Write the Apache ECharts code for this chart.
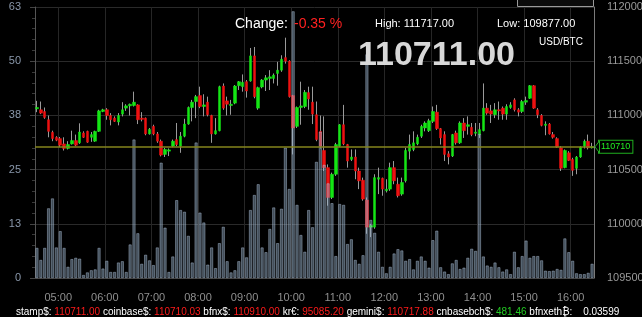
<!DOCTYPE html>
<html><head><meta charset="utf-8">
<script src="https://cdn.jsdelivr.net/npm/echarts@6/dist/echarts.min.js"></script>
<style>html,body{margin:0;padding:0;background:#000;}#c{width:642px;height:317px;}</style>
</head><body><div id="c"></div><script>
// 5-minute candles, first candle 04:30
const startMinutes = 4 * 60 + 30;
const candleCount = 144;
const openP = [111061,111052,111036,110960,110844,110798,110786,110737,110695,110737,
110768,110747,110838,110853,110798,110762,110853,111036,111052,110999,
110975,110939,111012,111067,111088,111091,111097,110975,110975,110829,
110899,110829,110762,110640,110670,110716,110777,110716,110808,110920,
111073,111128,111183,111082,111122,110999,110829,110859,111271,111134,
111091,111113,111274,111265,111311,111317,111549,111067,111262,111326,
111341,111341,111387,111417,111533,111500,111183,110899,111073,111082,
111210,111122,111006,110853,110677,110518,110243,110457,110716,110914,
110731,110594,110616,110487,110402,110219,109969,109969,110411,110420,
110304,110320,110518,110365,110274,110396,110670,110686,110737,110808,
110884,110859,110945,111030,110878,110823,110646,110625,110838,110747,
110930,110899,110890,110835,110823,110859,111067,111042,111006,111052,
111067,111012,111073,111143,111052,111036,111122,111158,111274,111052,
110999,110908,110920,110823,110786,110701,110518,110655,110594,110512,
110616,110716,110762,110701];
const highP = [111134,111128,111073,110999,110859,110808,110801,110798,110762,110859,
110823,110927,110853,110859,110847,110859,111052,111061,111067,111021,
110991,111021,111122,111103,111109,111219,111103,111030,110981,110884,
110914,110847,110777,110701,110695,110777,110930,110847,110969,111082,
111143,111189,111265,111195,111173,111006,110975,111274,111295,111173,
111143,111280,111317,111378,111326,111622,111631,111265,111335,111372,
111417,111387,111494,111555,111717,111509,111189,111082,111311,111234,
111265,111265,111128,110999,110991,110548,110472,110747,110920,111097,
110737,110686,110686,110518,110426,110243,110000,110457,110518,110426,
110411,110564,110579,110426,110426,110701,110823,110853,110823,110914,
110945,110969,111082,111097,110884,110853,110670,110829,110859,110945,
110975,110991,110930,110930,110930,111295,111113,111097,111113,111128,
111082,111103,111122,111158,111067,111143,111173,111280,111280,111067,
111012,110945,110930,110847,110798,110716,110686,110670,110609,110625,
110716,110777,110823,110747];
const lowP = [111030,111012,110969,110798,110762,110762,110707,110676,110686,110731,
110716,110737,110792,110747,110756,110756,110847,111030,110960,110908,
110939,110908,110991,111042,110999,111082,110920,110945,110817,110823,
110817,110747,110622,110616,110625,110707,110716,110655,110798,110914,
110945,110975,111067,110991,110991,110747,110823,110853,111052,110999,
111006,111103,111234,111219,111164,111311,111158,111052,111250,111225,
111234,111295,111274,111402,111478,111164,110640,110884,110914,111067,
111052,110920,110762,110695,110487,110167,110228,110442,110707,110725,
110518,110579,110411,110320,110213,109908,109877,109954,110274,110259,
110289,110304,110365,110243,110259,110381,110594,110670,110725,110792,
110853,110847,110930,110866,110731,110579,110548,110616,110731,110737,
110792,110823,110808,110808,110792,110853,111006,110930,110975,110960,
110960,110960,111061,111036,110991,111021,111097,111152,111061,110975,
110899,110817,110823,110786,110701,110487,110512,110579,110442,110457,
110609,110695,110686,110695];
const closeP = [111073,111021,110981,110853,110786,110771,110725,110695,110731,110768,
110725,110847,110798,110753,110823,110853,111042,111052,110999,110960,
110945,110999,111052,111088,111103,111122,110960,110963,110829,110872,
110829,110762,110634,110686,110682,110762,110731,110808,110920,111073,
111122,111173,111082,111097,111006,110829,110859,111265,111067,111103,
111103,111271,111311,111305,111225,111549,111173,111256,111326,111347,
111356,111372,111417,111518,111500,111173,110884,111073,111088,111213,
111152,111012,110777,110716,110518,110243,110457,110731,110914,110737,
110579,110616,110487,110396,110228,109969,109984,110426,110426,110320,
110320,110518,110396,110259,110381,110677,110731,110747,110798,110899,
110930,110951,111036,110878,110792,110640,110616,110823,110747,110930,
110859,110914,110823,110847,110869,111067,111021,111012,111052,111042,
111012,111082,111097,111052,111030,111128,111137,111274,111067,111006,
110908,110920,110829,110798,110707,110512,110677,110585,110493,110616,
110707,110762,110701,110711];
const volume = [7.0,4.2,7.0,16.2,18.5,7.1,10.9,7.0,2.6,4.4,
4.7,4.5,0.7,1.3,1.8,2.0,7.0,2.2,4.0,1.4,
1.4,3.6,3.9,1.4,7.8,32.2,10.4,3.3,5.4,4.1,
3.0,7.1,26.8,11.7,1.4,5.0,18.1,15.8,15.4,9.8,
3.6,31.5,15.2,12.9,3.1,7.1,2.3,8.1,11.9,3.9,
1.3,1.8,3.9,7.1,4.8,15.8,19.3,21.8,7.1,6.0,
11.4,16.4,8.1,16.1,30.3,20.7,62,17.0,10.0,6.1,
15.8,11.8,27,34,26.3,22,17.4,5.1,17.2,17,
7.9,9.0,4.2,3.3,5.3,52,13.5,10.5,6.1,2.6,
1.1,2.6,5.7,6.7,6.4,4.0,4.4,2.0,4.0,5.0,
4.0,2.4,8.8,11,2.5,1.5,0.9,3.4,4.2,2.1,
2.4,4.7,6.8,6.3,33.5,5.0,2.9,2.6,3.6,2.5,
1.5,2.0,0.9,6.1,2.5,5.1,8.7,4.7,5.1,5.1,
4.1,1.7,1.6,1.7,2.1,1.9,9.2,6.0,4.0,1.1,
0.9,0.9,1.2,3.3];
const lastPriceLine = 110710;
const volumeTicks = [0, 13, 25, 38, 50, 63];
const priceTicks = [109500, 110000, 110500, 111000, 111500, 112000];
const header = { changeLabel: 'Change:', change: '-0.35 %', high: 'High: 111717.00', low: 'Low: 109877.00', pair: 'USD/BTC', last: '110711.00' };
const tickers = [
  ['stamp$:', '110711.00', 'r'],
  ['coinbase$:', '110710.03', 'r'],
  ['bfnx$:', '110910.00', 'r'],
  ['kr€:', '95085.20', 'r'],
  ['gemini$:', '110717.88', 'r'],
  ['cnbasebch$:', '481.46', 'g'],
  ['bfnxeth₿:', '0.03599', 'w']
];

const times = [];
for (let i = 0; i < candleCount; i++) {
  const m = startMinutes + i * 5;
  times.push(String(Math.floor(m / 60)).padStart(2, '0') + ':' + String(m % 60).padStart(2, '0'));
}
const isHour = (idx, val) => /:00$/.test(val);
const wickData = openP.map((o, i) => [o, closeP[i], lowP[i], highP[i]]);
const bodyData = openP.map((o, i) => [o, closeP[i], Math.min(o, closeP[i]), Math.max(o, closeP[i])]);

const FONT = "'Liberation Sans', Arial, sans-serif";
const chart = echarts.init(document.getElementById('c'), null, { renderer: 'canvas' });

const tickerText = tickers.map(t => '{l|' + t[0] + '} {' + t[2] + '|' + t[1] + '}').join(' ');

function txt(x, y, text, fill, font) {
  return { type: 'text', x: x, y: y, z: 10, style: { text: text, fill: fill, font: font, align: 'left', verticalAlign: 'middle' } };
}

function buildGraphics(extra) {
  const g = [
    { type: 'rect', shape: { x: 517.5, y: -6, width: 76, height: 12.5 }, style: { fill: '#0b0b0b', stroke: '#9a9a9a', lineWidth: 1 }, z: 10 },
    txt(235, 24, header.changeLabel, '#ffffff', '14px ' + FONT),
    txt(294, 24, header.change, '#ff2020', '14px ' + FONT),
    txt(375, 24, header.high, '#ffffff', '11px ' + FONT),
    txt(497, 24, header.low, '#ffffff', '11px ' + FONT),
    txt(539, 42, header.pair, '#ffffff', '10px ' + FONT),
    txt(358, 56, header.last, '#d8d8d8', 'bold 34px ' + FONT),
    { type: 'text', x: 16, y: 312.5, z: 10, style: { text: tickerText, font: '10px ' + FONT, align: 'left', verticalAlign: 'middle',
        rich: { l: { fill: '#ffffff', fontSize: 10, fontFamily: FONT }, r: { fill: '#ff1a1a', fontSize: 10, fontFamily: FONT },
                g: { fill: '#22cc22', fontSize: 10, fontFamily: FONT }, w: { fill: '#ffffff', fontSize: 10, fontFamily: FONT, padding: [0, 0, 0, 8] } } } }
  ];
  return extra ? g.concat(extra) : g;
}

chart.setOption({
  animation: false,
  backgroundColor: '#000000',
  grid: { left: 35, right: 48, top: 7, bottom: 39, containLabel: false, outerBoundsMode: 'none' },
  xAxis: {
    type: 'category', data: times, boundaryGap: true,
    axisLine: { show: true, lineStyle: { color: '#444' } },
    axisTick: { show: false },
    axisLabel: { interval: isHour, color: '#8f8f8f', fontSize: 11, fontFamily: FONT, margin: 14, padding: [0, 4, 0, 0] },
    splitLine: { show: true, interval: isHour, lineStyle: { color: '#262626', width: 1 } }
  },
  yAxis: [
    { type: 'value', position: 'left', min: 0, max: 63, interval: 12.6,
      axisLine: { show: true, lineStyle: { color: '#555' } },
      axisTick: { show: true, length: 5, lineStyle: { color: '#444' } },
      minorTick: { show: true, splitNumber: 5, length: 3, lineStyle: { color: '#3a3a3a' } },
      axisLabel: { color: '#8a98ab', fontSize: 11, fontFamily: FONT, margin: 14, formatter: v => String(Math.round(v)) },
      splitLine: { show: false } },
    { type: 'value', position: 'right', min: priceTicks[0], max: priceTicks[priceTicks.length - 1], interval: 500,
      axisLine: { show: true, lineStyle: { color: '#7a7a7a' } },
      axisTick: { show: false },
      axisLabel: { color: '#9a9a9a', fontSize: 11, fontFamily: FONT, margin: 13, formatter: v => String(Math.round(v)) },
      splitLine: { show: true, lineStyle: { color: '#2a2a2a', width: 1 } } }
  ],
  series: [
    { type: 'candlestick', name: 'wick', yAxisIndex: 1, data: wickData, barWidth: 1, z: 2, silent: true,
      itemStyle: { color: '#9a9a9a', color0: '#9a9a9a', borderColor: '#9a9a9a', borderColor0: '#9a9a9a', borderWidth: 1 } },
    { type: 'candlestick', name: 'body', yAxisIndex: 1, data: bodyData, barWidth: 3, z: 3, silent: true,
      itemStyle: { color: '#14e614', color0: '#ee1111', borderColor: '#14e614', borderColor0: '#ee1111', borderWidth: 0.5 },
      markLine: { silent: true, symbol: ['none', 'none'], animation: false,
        lineStyle: { color: '#85851c', width: 1.5, type: 'solid' },
        label: { show: true, position: 'end', distance: 5, formatter: String(lastPriceLine), color: '#22ee22', fontSize: 9, fontFamily: FONT,
          backgroundColor: '#000', borderColor: '#1fae1f', borderWidth: 1, padding: [2, 2, 1, 2] },
        data: [{ yAxis: lastPriceLine }] } },
    { type: 'bar', name: 'vol', yAxisIndex: 0, data: volume, barWidth: 3, z: 4, silent: true,
      itemStyle: { color: 'rgba(150,178,205,0.42)', borderColor: 'rgba(185,205,228,0.6)', borderWidth: 0.7 } }
  ],
  graphic: buildGraphics()
});

const py = chart.convertToPixel({ yAxisIndex: 1 }, lastPriceLine);
const gridRight = 642 - 48;
chart.setOption({ graphic: buildGraphics([
  { type: 'polygon', shape: { points: [[gridRight + 1, py], [gridRight + 5.5, py - 6], [gridRight + 5.5, py + 6]] }, style: { fill: '#000', stroke: '#1fae1f', lineWidth: 1 }, z: 11 }
]) });
</script></body></html>
